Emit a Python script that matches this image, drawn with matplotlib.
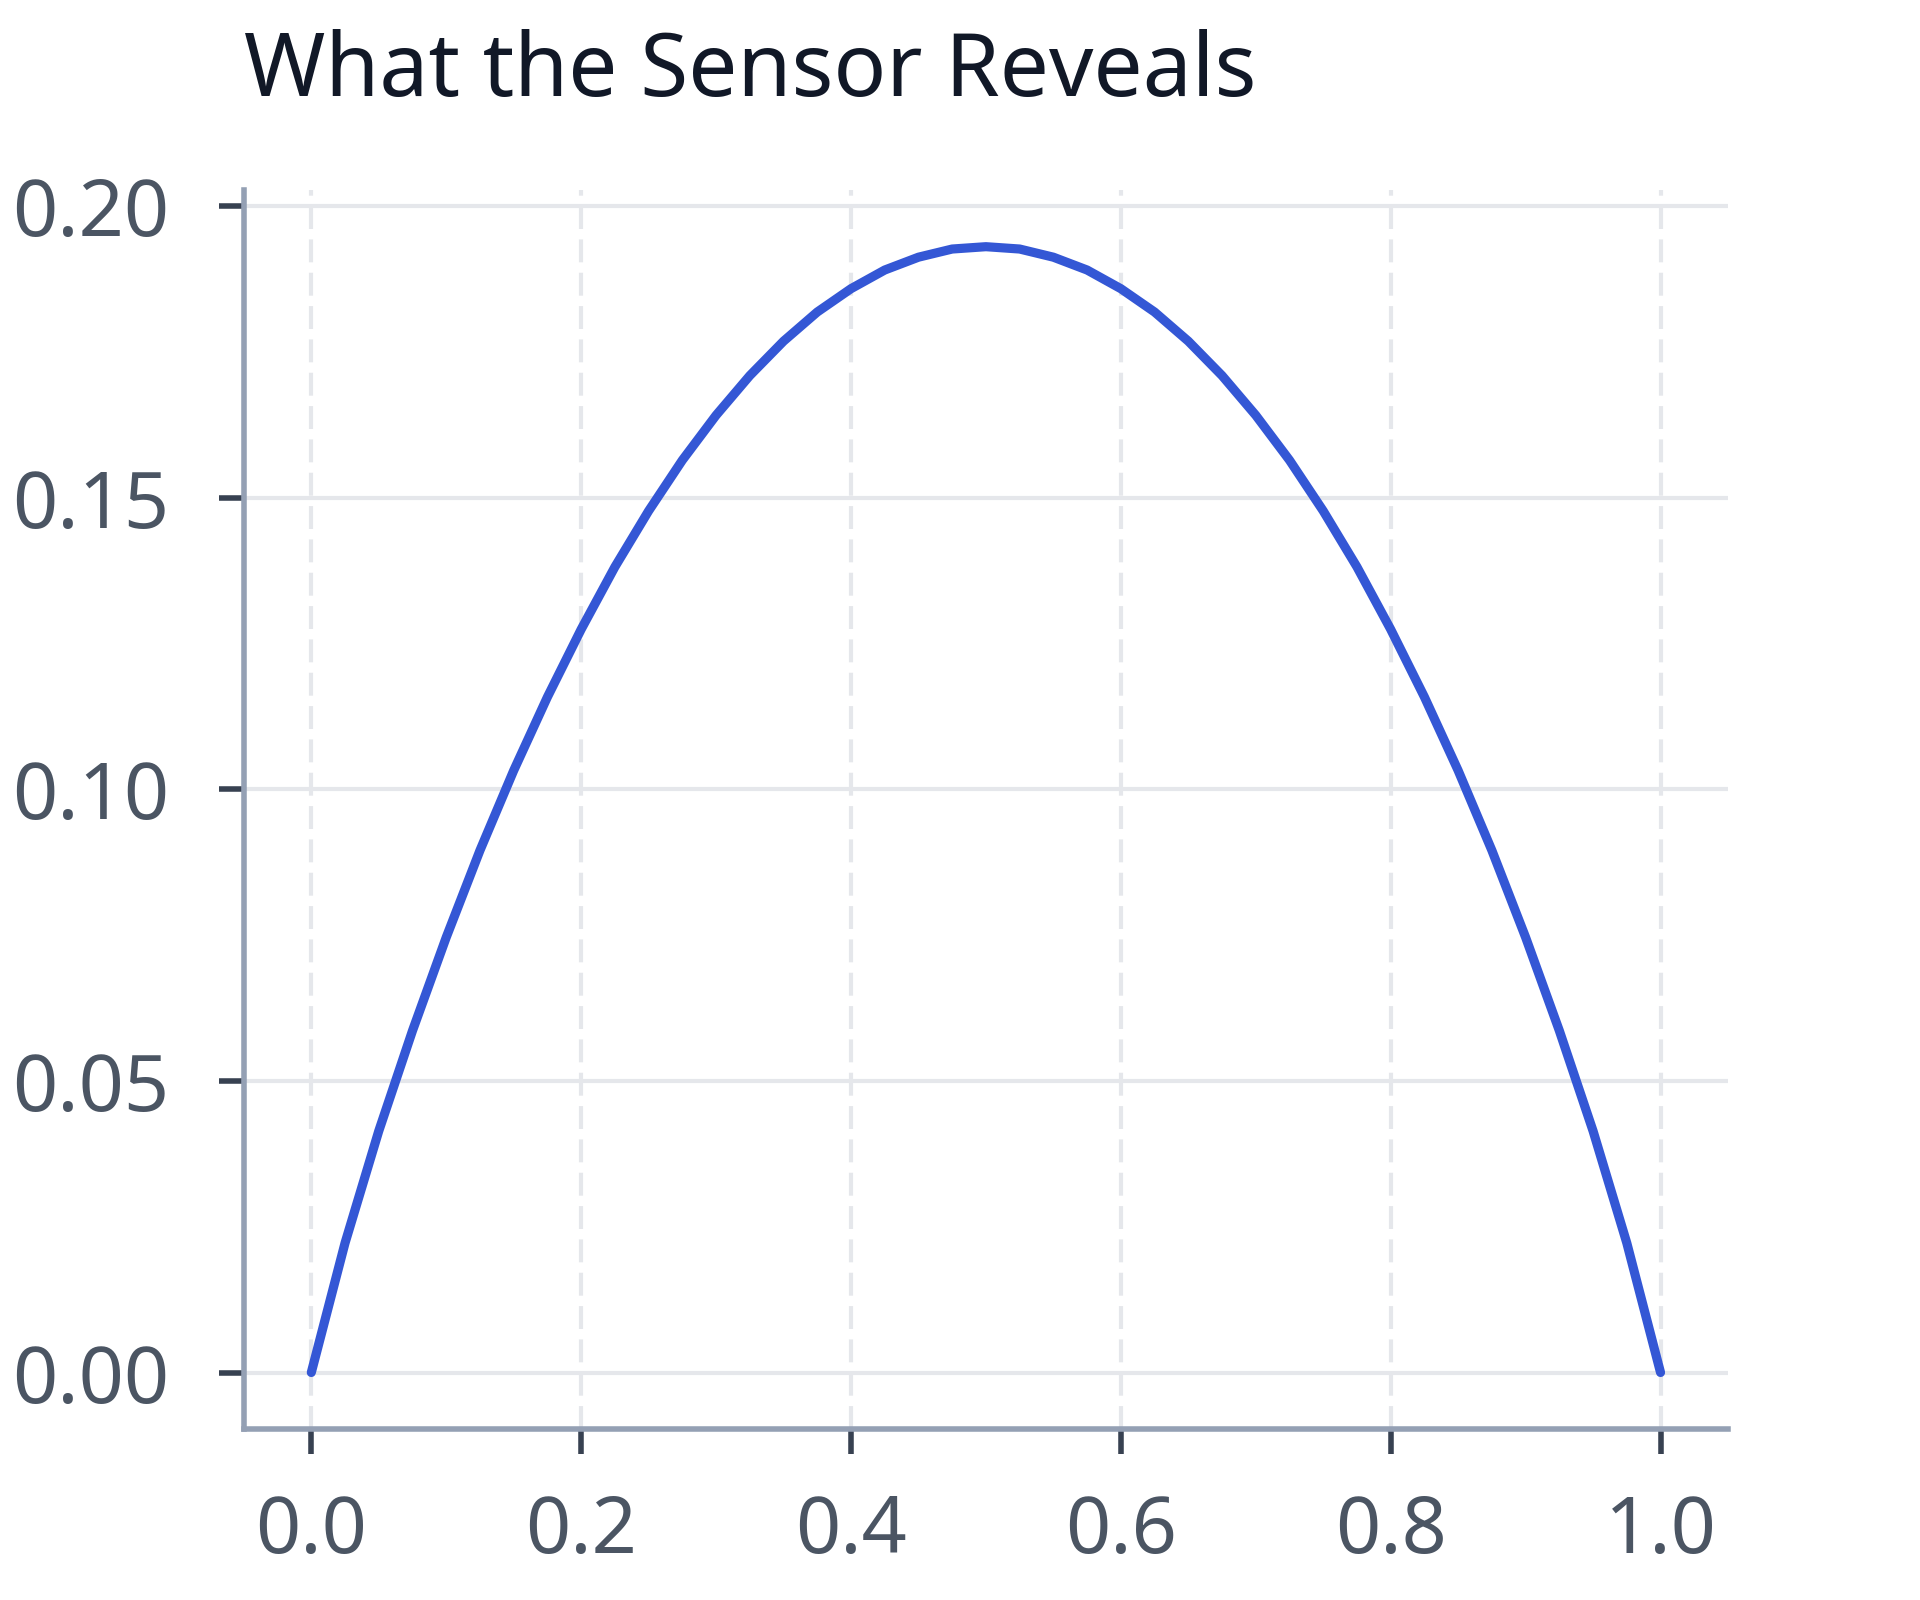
import matplotlib
matplotlib.use("Agg")
import matplotlib.pyplot as plt

plt.rcParams['font.family'] = ['Noto Sans', 'DejaVu Sans']

# values
x_vals = [0.000, 0.025, 0.050, 0.075, 0.100, 0.125, 0.150, 0.175, 0.200, 0.225,
          0.250, 0.275, 0.300, 0.325, 0.350, 0.375, 0.400, 0.425, 0.450, 0.475,
          0.500, 0.525, 0.550, 0.575, 0.600, 0.625, 0.650, 0.675, 0.700, 0.725,
          0.750, 0.775, 0.800, 0.825, 0.850, 0.875, 0.900, 0.925, 0.950, 0.975,
          1.000]
y_vals = [0.0000, 0.0222, 0.0414, 0.0586, 0.0746, 0.0895, 0.1032, 0.1158, 0.1274, 0.1381,
          0.1477, 0.1564, 0.1641, 0.1709, 0.1768, 0.1818, 0.1858, 0.1890, 0.1912, 0.1926,
          0.1930, 0.1926, 0.1912, 0.1890, 0.1858, 0.1818, 0.1768, 0.1709, 0.1641, 0.1564,
          0.1477, 0.1381, 0.1274, 0.1158, 0.1032, 0.0895, 0.0746, 0.0586, 0.0414, 0.0222,
          0.0000]

title = "What the Sensor Reveals"
x_ticks = [0.0, 0.2, 0.4, 0.6, 0.8, 1.0]
y_ticks = [0.00, 0.05, 0.10, 0.15, 0.20]

fig = plt.figure(figsize=(9.6, 8), dpi=200)
ax = fig.add_axes([0.127, 0.107, 0.773, 0.774])

ax.plot(x_vals, y_vals, color='#3457d5', linewidth=3.3,
        solid_capstyle='round', solid_joinstyle='round')

ax.set_xticks(x_ticks)
ax.set_yticks(y_ticks)
ax.set_xticklabels([f"{v:.1f}" for v in x_ticks])
ax.set_yticklabels([f"{v:.2f}" for v in y_ticks])

ax.xaxis.grid(True, linestyle=(0, (5.5, 2.5)), color='#e5e7eb', linewidth=1.5)
ax.yaxis.grid(True, linestyle='-', color='#e5e7eb', linewidth=1.5)
ax.set_axisbelow(True)

for side in ['top', 'right']:
    ax.spines[side].set_visible(False)
for side in ['left', 'bottom']:
    ax.spines[side].set_color('#94a0b4')
    ax.spines[side].set_linewidth(2.0)

ax.tick_params(axis='both', colors='#374151', length=9, width=2.0,
               labelsize=28.5, labelcolor='#4b5563')
ax.tick_params(axis='x', pad=14)
ax.tick_params(axis='y', pad=18)

ax.set_title(title, loc='left', fontsize=31.5, color='#111827', pad=34)

fig.savefig('out.png', dpi=200, facecolor='white')
